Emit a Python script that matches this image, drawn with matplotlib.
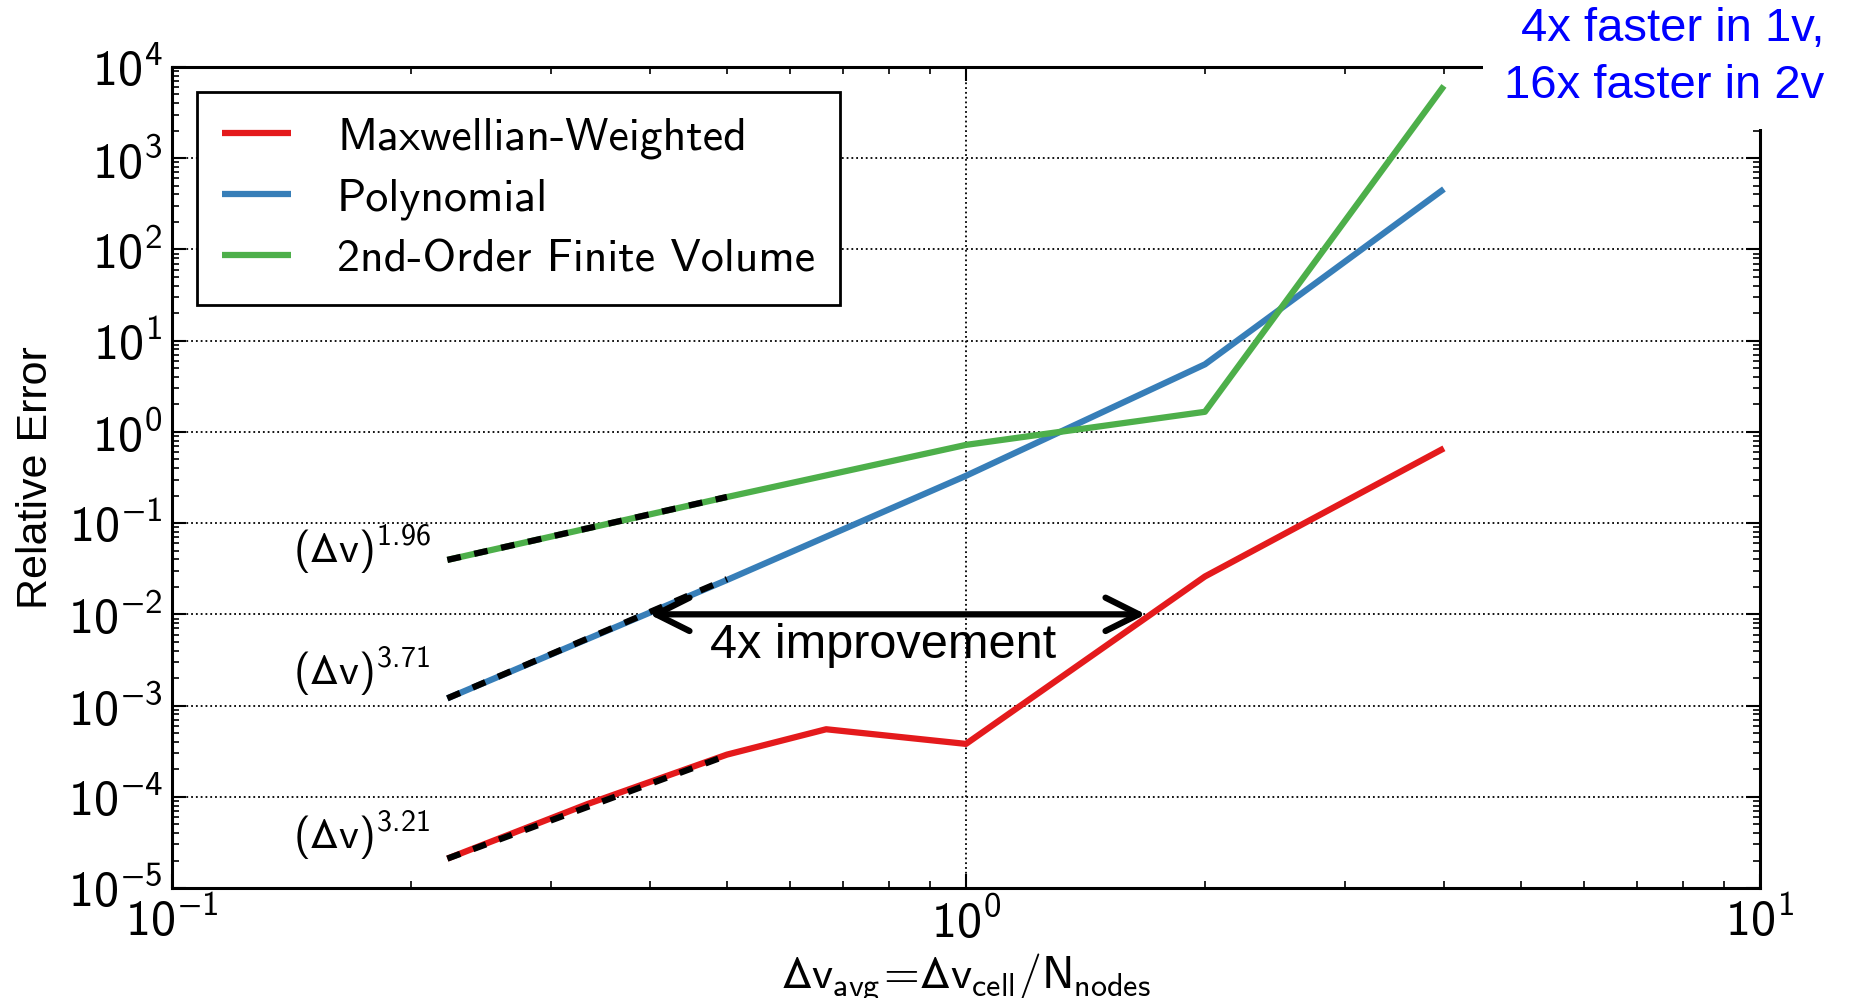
import matplotlib
matplotlib.use('Agg')
import matplotlib.pyplot as plt
from matplotlib.ticker import LogLocator, FuncFormatter
import numpy as np

plt.rcParams['font.family'] = 'cmss10'
plt.rcParams['mathtext.fontset'] = 'custom'
plt.rcParams['mathtext.rm'] = 'cmss10'
plt.rcParams['mathtext.sf'] = 'cmss10'
plt.rcParams['mathtext.it'] = 'cmss10'
plt.rcParams['mathtext.bf'] = 'cmss10'
plt.rcParams['mathtext.fallback'] = 'stixsans'
plt.rcParams['axes.unicode_minus'] = True

# data
x_max = [2/9, 1/3, 1/2, 2/3, 1.0, 2.0, 4.0]
err_max = [2.1e-5, 8.3e-5, 2.9e-4, 5.5e-4, 3.8e-4, 2.6e-2, 0.66]
x_poly = [2/9, 1/2, 1.0, 2.0, 4.0]
err_poly = [1.2e-3, 2.38e-2, 0.33, 5.5, 459.0]
x_fv = [2/9, 1/2, 1.0, 2.0, 4.0]
err_fv = [0.0395, 0.193, 0.72, 1.66, 6200.0]

labels = ['Maxwellian-Weighted', 'Polynomial', '2nd-Order Finite Volume']
colors = ['#e41a1c', '#377eb8', '#4daf4a']

fit_orders = [3.21, 3.71, 1.96]
fit_xrange = [2/9, 1/2]
fit_text_y = [3.84e-5, 2.38e-3, 0.0518]

fig = plt.figure(figsize=(18.56, 9.98), dpi=100)
ax = fig.add_axes([0.0927, 0.1102, 0.8555, 0.8227])

series = [(x_max, err_max), (x_poly, err_poly), (x_fv, err_fv)]
for (xs, ys), lab, c in zip(series, labels, colors):
    ax.plot(xs, ys, color=c, lw=4.5, label=lab, solid_capstyle='butt')

# power-law fits over the fine-resolution points
xf = np.array(fit_xrange)
for (xs, ys), p, ty in zip(series, fit_orders, fit_text_y):
    yf = ys[0] * (xf / xs[0]) ** p
    ax.plot(xf, yf, color='k', lw=4.5, dashes=(2.2, 2.2), solid_capstyle='butt')
    ax.text(0.142, ty, r'$(\Delta v)^{%.2f}$' % p, fontsize=31,
            ha='left', va='center')

ax.set_xscale('log')
ax.set_yscale('log')
ax.set_xlim(0.1, 10)
ax.set_ylim(1e-5, 1e4)

ax.yaxis.set_major_locator(LogLocator(base=10, numticks=20))
ax.yaxis.set_minor_locator(LogLocator(base=10, subs=np.arange(2, 10), numticks=20))


def dec_fmt(v, pos):
    return r'$10^{%d}$' % int(round(np.log10(v)))


ax.xaxis.set_major_formatter(FuncFormatter(dec_fmt))
ax.yaxis.set_major_formatter(FuncFormatter(dec_fmt))

ax.grid(True, which='major', color='k', linestyle=':', lw=1.3)
ax.tick_params(which='both', direction='in', top=True, right=True, labelsize=36, pad=7)
ax.tick_params(which='major', length=10, width=1.5)
ax.tick_params(which='minor', length=5, width=1.2)
for s in ax.spines.values():
    s.set_linewidth(2.2)

ax.set_ylabel('Relative Error', family='Liberation Sans', fontsize=31, labelpad=8)
ax.set_xlabel(r'$\Delta v_{avg}\!=\!\Delta v_{cell}/N_{nodes}$', fontsize=33,
              labelpad=3)

ax.annotate('', xy=(0.399, 1e-2), xytext=(1.685, 1e-2),
            arrowprops=dict(arrowstyle='<->', lw=4.5, color='k', mutation_scale=60,
                            shrinkA=0, shrinkB=0))
ax.text(0.787, 4.6e-3, '4x improvement', family='Liberation Sans', fontsize=35,
        ha='center', va='center')

leg = ax.legend(loc='upper left', fontsize=33, handlelength=1.5, handletextpad=1.0,
                labelspacing=0.42, borderpad=0.55, borderaxespad=0.55, fancybox=False,
                framealpha=1)
leg.get_frame().set_edgecolor('k')
leg.get_frame().set_linewidth(2)

fig.text(0.983, 0.993, '4x faster in 1v,\n16x faster in 2v', family='Liberation Sans',
         fontsize=34, color='#0000ff', ha='right', va='top', linespacing=1.38,
         bbox=dict(boxstyle='square,pad=0.45', facecolor='white', edgecolor='none'))

fig.savefig('out.png', dpi=100)
